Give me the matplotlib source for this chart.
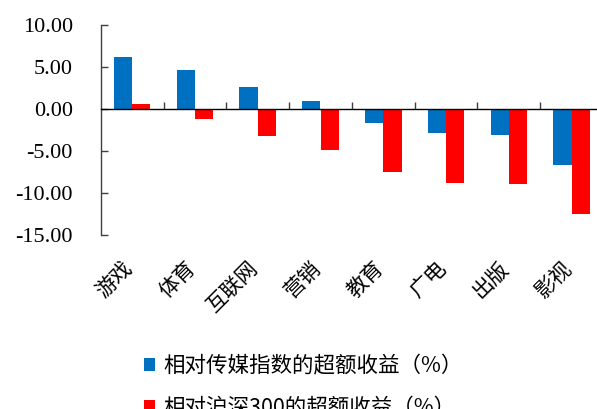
import matplotlib
matplotlib.use("Agg")
import matplotlib.pyplot as plt
import matplotlib.transforms as mtransforms
from matplotlib.patches import Patch
import numpy as np

categories = ["游戏", "体育", "互联网", "营销", "教育", "广电", "出版", "影视"]
excess_vs_media = [6.25, 4.68, 2.65, 1.00, -1.67, -2.90, -3.06, -6.71]
excess_vs_hs300 = [0.60, -1.15, -3.20, -4.93, -7.50, -8.77, -8.93, -12.55]
series_names = ["相对传媒指数的超额收益（%）", "相对沪深300的超额收益（%）"]
yticks = [-15, -10, -5, 0, 5, 10]

BLUE = "#0070C0"
RED = "#FF0000"
CJK = ["Noto Sans CJK SC", "DejaVu Sans"]
SERIF = ["Liberation Serif", "DejaVu Serif"]
plt.rcParams["font.family"] = SERIF

fig = plt.figure(figsize=(5.97, 4.09), dpi=100)
ax = fig.add_axes([0.1687, 0.4254, 0.8414, 0.5134])

x = np.arange(len(categories))
w = 0.29
ax.bar(x - w / 2 - 0.002, excess_vs_media, width=w, color=BLUE, zorder=2)
ax.bar(x + w / 2 + 0.002, excess_vs_hs300, width=w, color=RED, zorder=2)

ax.set_xlim(-0.5, len(categories) - 0.5)
ax.set_ylim(-15, 10)
ax.set_yticks(yticks)
ax.set_yticklabels([f"{v:.2f}" for v in yticks])
ax.tick_params(axis="y", direction="in", length=5, width=1, color="#404040", pad=20,
               labelsize=16)

for s in ["top", "right"]:
    ax.spines[s].set_visible(False)
ax.spines["left"].set_color("#404040")
ax.spines["left"].set_linewidth(1.0)
ax.spines["bottom"].set_position(("data", 0))
ax.spines["bottom"].set_color("black")
ax.spines["bottom"].set_linewidth(1.0)
ax.spines["bottom"].set_zorder(3)
ax.set_xticks(x + 0.5)
ax.set_xticklabels([])
ax.tick_params(axis="x", direction="in", length=5, width=1, color="#404040")

sec = ax.secondary_xaxis("bottom")
sec.set_xticks(x)
sec.set_xticklabels(categories, fontfamily=CJK, fontsize=15, rotation=45,
                    ha="right", va="top")
sec.spines["bottom"].set_visible(False)
sec.tick_params(axis="x", length=0, pad=16)
off = mtransforms.ScaledTranslation(5 / 100, 0, fig.dpi_scale_trans)
for lab in sec.get_xticklabels():
    lab.set_transform(lab.get_transform() + off)

handles = [Patch(facecolor=BLUE, edgecolor="none"), Patch(facecolor=RED, edgecolor="none")]
fig.legend(handles, series_names, loc="upper left", bbox_to_anchor=(0.2417, 0.132),
           frameon=False, prop={"family": CJK, "size": 15.5}, handlelength=0.5,
           handleheight=0.55, handletextpad=0.4, labelspacing=0.95,
           borderpad=0, borderaxespad=0)

fig.savefig("out.png", dpi=100)
